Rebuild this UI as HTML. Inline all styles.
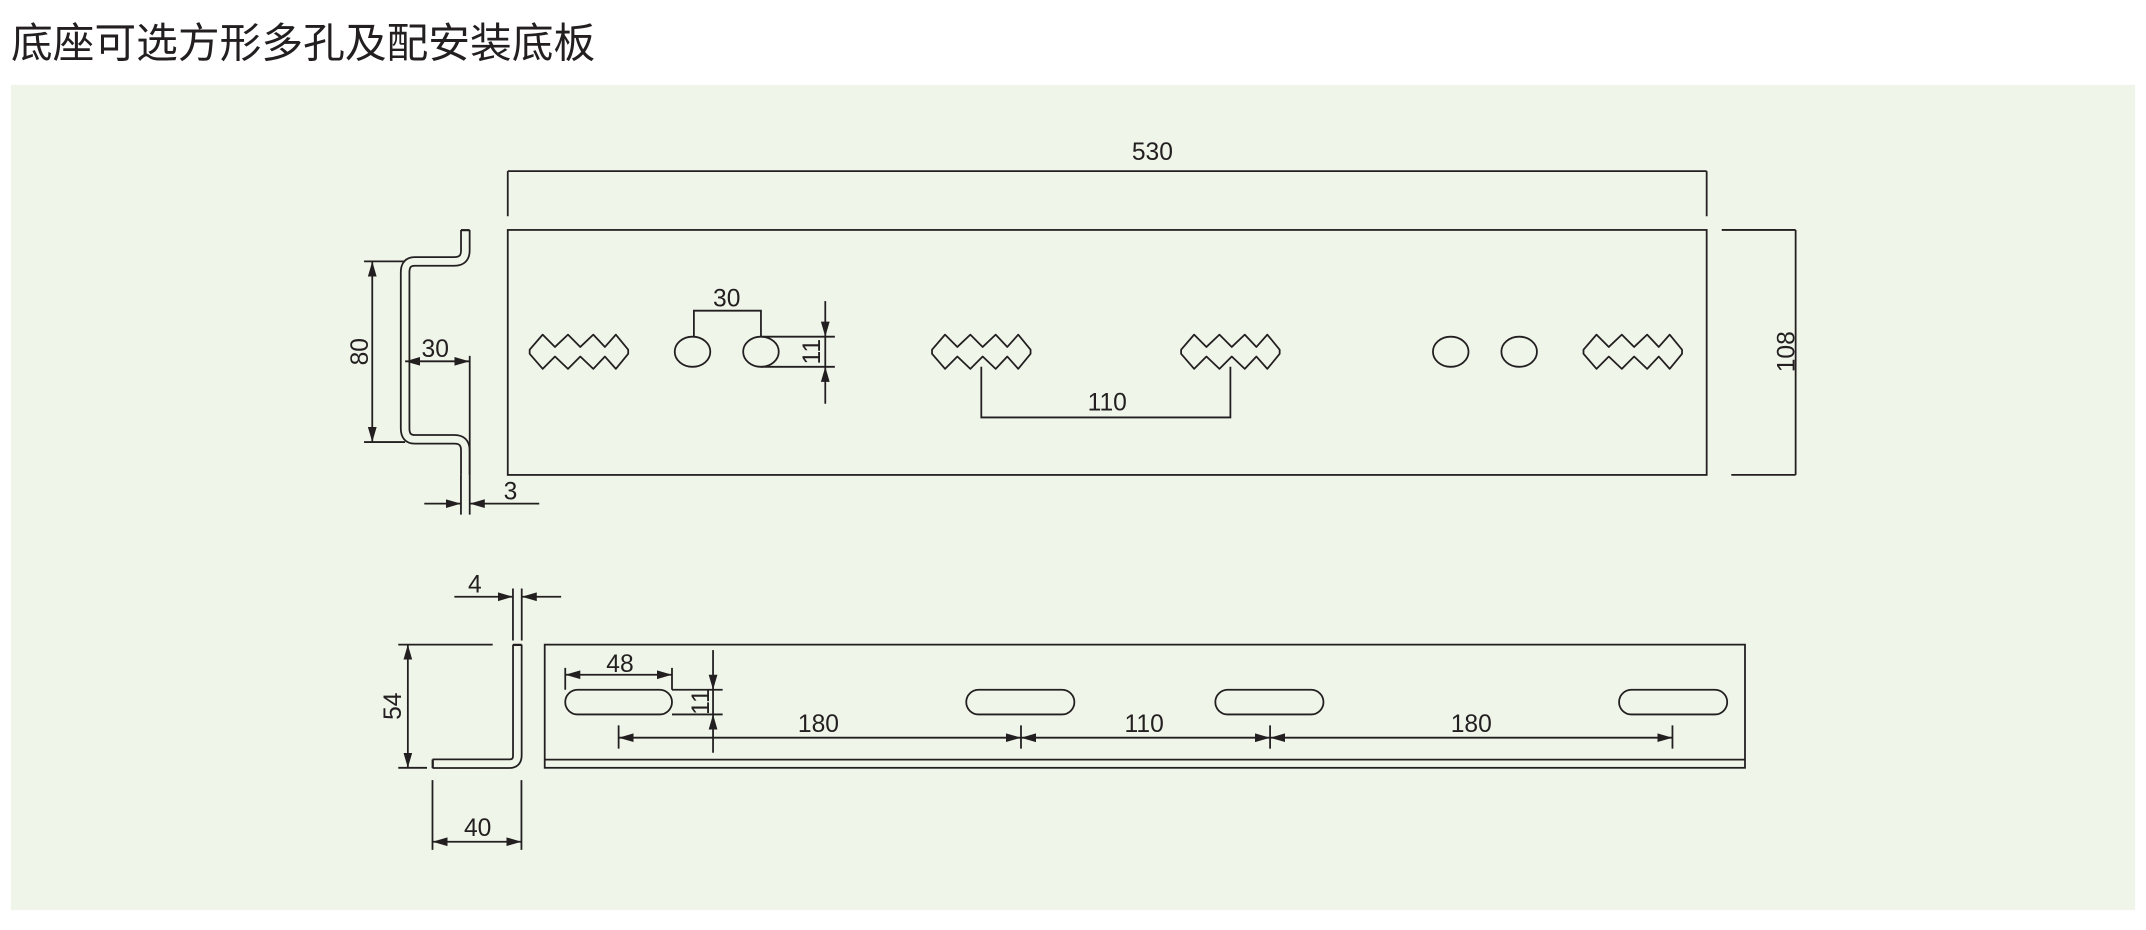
<!DOCTYPE html>
<html><head><meta charset="utf-8"><style>
html,body{margin:0;padding:0;background:#fff;}
svg{display:block;}
text{font-family:"Liberation Sans",Arial,sans-serif;fill:#231f20;}
</style></head><body>
<svg width="2146" height="930" viewBox="0 0 1568 679.5" xmlns="http://www.w3.org/2000/svg">
<defs>
<marker id="a" markerUnits="userSpaceOnUse" markerWidth="12" markerHeight="8" refX="11" refY="4" orient="auto-start-reverse" viewBox="0 0 12 8"><path d="M0,0.8 L11,4 L0,7.2 Z" fill="#231f20"/></marker>
</defs>
<rect x="0" y="0" width="1568" height="679.5" fill="#fff"/>
<text x="8" y="42" font-size="30.5" style='font-family:"Liberation Sans","Noto Sans CJK SC",sans-serif'>底座可选方形多孔及配安装底板</text>
<rect x="8" y="62" width="1552" height="603" fill="#eff5e9"/>
<g stroke="#231f20" stroke-width="1.3" fill="none">
<rect x="371" y="168" width="876" height="179"/>
<path d="M371,125 H1247 M371,125 V158 M1247,125 V158"/>
<path d="M1258,168 H1312 M1265,347 H1312 M1312,168 V347"/>
<g id="zz"><path d="M387,255.5 L396.5,244.5 L405.5,253.5 L415,244.5 L424,253.5 L433.5,244.5 L442,253.5 L450,244.5 L459,255.5 V258.5 L450,269.5 L442,260.5 L433.5,269.5 L424,260.5 L415,269.5 L405.5,260.5 L396.5,269.5 L387,258.5 Z" stroke-linejoin="round"/></g>
<use href="#zz" x="294"/><use href="#zz" x="476"/><use href="#zz" x="770"/>
<ellipse cx="506" cy="257" rx="13" ry="11"/><ellipse cx="556" cy="257" rx="13" ry="11"/>
<ellipse cx="1060" cy="257" rx="13" ry="11"/><ellipse cx="1110" cy="257" rx="13" ry="11"/>
<path d="M507,246 V227 H556 V246"/>
<path d="M556,246 H610 M556,268 H610"/>
<path d="M603,220 V246" marker-end="url(#a)"/><path d="M603,295 V268" marker-end="url(#a)"/><path d="M603,246 V268"/>
<path d="M717,268 V305 H899 V268"/>
<path d="M340,168 V183 Q340,191 332,191 H303 Q296,191 296,199 V313 Q296,321 303,321 H332 Q340,321 340,329 V347" stroke-width="7.6"/>
<path d="M340,169 V183 Q340,191 332,191 H303 Q296,191 296,199 V313 Q296,321 303,321 H332 Q340,321 340,329 V348" stroke="#eff5e9" stroke-width="5"/>
<path d="M336.8,168 H343.2"/>
<path d="M336.8,347 V376 M343.2,347 V376 M343.2,260 V347"/>
<path d="M266,191 H296 M266,323 H296"/>
<path d="M272,191 V323" marker-start="url(#a)" marker-end="url(#a)"/>
<path d="M296,264 H343" marker-start="url(#a)" marker-end="url(#a)"/>
<path d="M310,368 H336.8" marker-end="url(#a)"/><path d="M394,368 H343.2" marker-end="url(#a)"/>
<rect x="398" y="471" width="877" height="90"/>
<path d="M398,555 H1275"/>
<rect x="413" y="504" width="78" height="18" rx="9"/>
<rect x="706" y="504" width="79" height="18" rx="9"/>
<rect x="888" y="504" width="79" height="18" rx="9"/>
<rect x="1183" y="504" width="79" height="18" rx="9"/>
<path d="M413,488 V504 M491,488 V504"/>
<path d="M413,493 H491" marker-start="url(#a)" marker-end="url(#a)"/>
<path d="M491,504 H528 M491,522 H528"/>
<path d="M521,475 V504" marker-end="url(#a)"/><path d="M521,550 V522" marker-end="url(#a)"/><path d="M521,504 V522"/>
<path d="M452,530 V547 M746,530 V547 M928,530 V547 M1222,530 V547"/>
<path d="M452,539 H746" marker-start="url(#a)" marker-end="url(#a)"/>
<path d="M746,539 H928" marker-start="url(#a)" marker-end="url(#a)"/>
<path d="M928,539 H1222" marker-start="url(#a)" marker-end="url(#a)"/>
<path d="M378,471 V552 Q378,558 372,558 H316" stroke-width="7.6"/>
<path d="M378,472 V552 Q378,558 372,558 H317" stroke="#eff5e9" stroke-width="5"/>
<path d="M374.8,471 H381.2 M316,554.8 V561.2"/>
<path d="M374.8,430 V468 M381.2,430 V468"/>
<path d="M332,436 H374.8" marker-end="url(#a)"/><path d="M410,436 H381.2" marker-end="url(#a)"/>
<path d="M291,471 H360 M291,561 H312"/>
<path d="M298,471 V561" marker-start="url(#a)" marker-end="url(#a)"/>
<path d="M316,570 V621 M381,570 V621"/>
<path d="M316,615 H381" marker-start="url(#a)" marker-end="url(#a)"/>
</g>
<g font-size="18" text-anchor="middle">
<text x="842" y="117">530</text>
<text transform="translate(1305,257) rotate(-90)" dy="6">108</text>
<text x="531" y="224">30</text>
<text transform="translate(593,257) rotate(-90)" dy="6">11</text>
<text x="809" y="300">110</text>
<text transform="translate(263,257) rotate(-90)" dy="6">80</text>
<text x="318" y="261">30</text>
<text x="373" y="365">3</text>
<text x="347" y="433">4</text>
<text transform="translate(287,516) rotate(-90)" dy="6">54</text>
<text x="349" y="611">40</text>
<text x="453" y="491">48</text>
<text transform="translate(512,513) rotate(-90)" dy="6">11</text>
<text x="598" y="535">180</text>
<text x="836" y="535">110</text>
<text x="1075" y="535">180</text>
</g>
</svg>
</body></html>
